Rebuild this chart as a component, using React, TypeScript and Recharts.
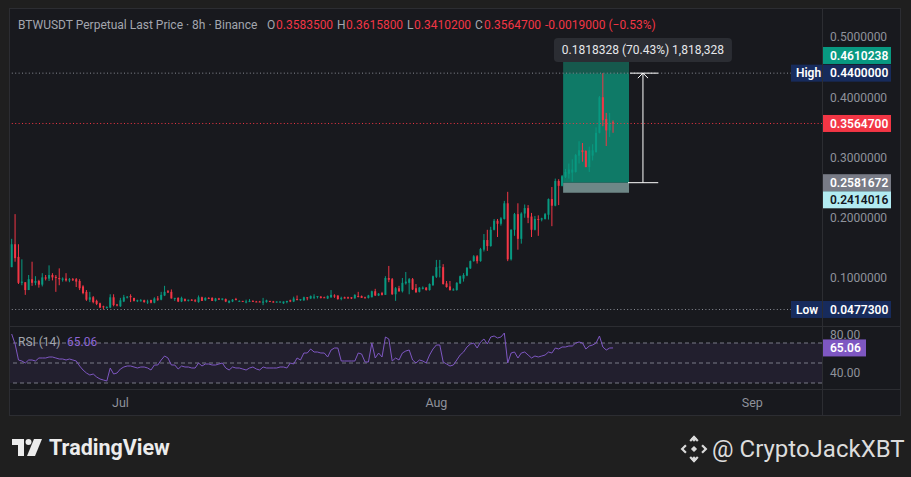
import React from 'react';
import {
    ComposedChart,
    LineChart,
    Line,
    Bar,
    XAxis,
    YAxis,
    ReferenceLine,
    ReferenceArea
} from 'recharts';

// 8h candles from 20 Jun to 18 Aug: [open, high, low, close]
const candles: number[][] = [
    [0.118, 0.165, 0.118, 0.156], [0.156, 0.206, 0.127, 0.133], [0.135, 0.156, 0.090, 0.092], [0.092, 0.131, 0.088, 0.094],
    [0.093, 0.093, 0.072, 0.080], [0.080, 0.105, 0.080, 0.098], [0.098, 0.127, 0.087, 0.092], [0.092, 0.103, 0.088, 0.095],
    [0.095, 0.097, 0.084, 0.089], [0.089, 0.108, 0.086, 0.101], [0.101, 0.105, 0.096, 0.099], [0.099, 0.121, 0.095, 0.105],
    [0.105, 0.108, 0.096, 0.101], [0.102, 0.105, 0.077, 0.100], [0.100, 0.116, 0.088, 0.098], [0.097, 0.101, 0.094, 0.099],
    [0.099, 0.108, 0.094, 0.096], [0.096, 0.100, 0.093, 0.098], [0.098, 0.100, 0.095, 0.097], [0.098, 0.100, 0.085, 0.094],
    [0.095, 0.098, 0.080, 0.083], [0.086, 0.088, 0.073, 0.075], [0.077, 0.080, 0.062, 0.064], [0.064, 0.077, 0.060, 0.068],
    [0.068, 0.070, 0.058, 0.060], [0.062, 0.064, 0.055, 0.057], [0.058, 0.059, 0.050, 0.051], [0.053, 0.054, 0.0477, 0.052],
    [0.051, 0.053, 0.049, 0.052], [0.051, 0.073, 0.050, 0.068], [0.068, 0.073, 0.053, 0.055], [0.056, 0.057, 0.053, 0.055],
    [0.053, 0.067, 0.052, 0.063], [0.061, 0.072, 0.060, 0.068], [0.068, 0.070, 0.066, 0.069], [0.070, 0.073, 0.060, 0.068],
    [0.067, 0.067, 0.061, 0.062], [0.062, 0.064, 0.060, 0.063], [0.063, 0.065, 0.061, 0.063], [0.063, 0.064, 0.059, 0.060],
    [0.060, 0.064, 0.057, 0.061], [0.0635, 0.064, 0.058, 0.059], [0.059, 0.068, 0.058, 0.066], [0.066, 0.070, 0.062, 0.064],
    [0.064, 0.077, 0.063, 0.072], [0.071, 0.087, 0.070, 0.077], [0.078, 0.080, 0.075, 0.076], [0.077, 0.081, 0.066, 0.066],
    [0.066, 0.067, 0.062, 0.067], [0.067, 0.068, 0.060, 0.061], [0.061, 0.069, 0.060, 0.067], [0.065, 0.066, 0.061, 0.062],
    [0.062, 0.064, 0.061, 0.064], [0.064, 0.065, 0.062, 0.063], [0.063, 0.065, 0.060, 0.062], [0.060, 0.071, 0.059, 0.068],
    [0.068, 0.069, 0.062, 0.062], [0.063, 0.068, 0.062, 0.067], [0.067, 0.068, 0.065, 0.066], [0.067, 0.068, 0.062, 0.062],
    [0.062, 0.067, 0.061, 0.066], [0.066, 0.067, 0.064, 0.064], [0.064, 0.066, 0.063, 0.066], [0.065, 0.066, 0.060, 0.061],
    [0.059, 0.063, 0.058, 0.062], [0.061, 0.065, 0.060, 0.064], [0.065, 0.067, 0.063, 0.064], [0.062, 0.063, 0.061, 0.062],
    [0.062, 0.062, 0.061, 0.061], [0.060, 0.064, 0.058, 0.061], [0.061, 0.065, 0.060, 0.062], [0.062, 0.063, 0.061, 0.061],
    [0.061, 0.062, 0.060, 0.060], [0.061, 0.062, 0.060, 0.060], [0.059, 0.067, 0.055, 0.061], [0.060, 0.064, 0.059, 0.063],
    [0.062, 0.062, 0.060, 0.061], [0.061, 0.062, 0.059, 0.060], [0.060, 0.061, 0.059, 0.061], [0.060, 0.061, 0.059, 0.061],
    [0.058, 0.061, 0.057, 0.061], [0.060, 0.062, 0.058, 0.062], [0.063, 0.064, 0.060, 0.061], [0.061, 0.069, 0.060, 0.066],
    [0.065, 0.071, 0.063, 0.064], [0.063, 0.065, 0.062, 0.065], [0.063, 0.069, 0.062, 0.068], [0.068, 0.068, 0.063, 0.067],
    [0.066, 0.071, 0.065, 0.070], [0.069, 0.073, 0.065, 0.069], [0.069, 0.070, 0.066, 0.070], [0.069, 0.070, 0.066, 0.067],
    [0.068, 0.069, 0.067, 0.067], [0.066, 0.071, 0.065, 0.070], [0.068, 0.080, 0.067, 0.072], [0.071, 0.073, 0.067, 0.070],
    [0.071, 0.071, 0.064, 0.065], [0.066, 0.069, 0.063, 0.067], [0.068, 0.069, 0.066, 0.066], [0.068, 0.069, 0.066, 0.066],
    [0.068, 0.068, 0.065, 0.066], [0.066, 0.073, 0.066, 0.072], [0.070, 0.077, 0.068, 0.069], [0.070, 0.071, 0.067, 0.067],
    [0.068, 0.069, 0.066, 0.067], [0.067, 0.072, 0.066, 0.071], [0.068, 0.079, 0.068, 0.078], [0.078, 0.082, 0.070, 0.071],
    [0.071, 0.075, 0.070, 0.074], [0.075, 0.077, 0.071, 0.072], [0.072, 0.103, 0.072, 0.100], [0.100, 0.120, 0.093, 0.097],
    [0.098, 0.100, 0.072, 0.073], [0.073, 0.085, 0.062, 0.083], [0.083, 0.087, 0.077, 0.078], [0.078, 0.100, 0.076, 0.092],
    [0.091, 0.110, 0.089, 0.094], [0.092, 0.100, 0.073, 0.098], [0.098, 0.100, 0.080, 0.081], [0.083, 0.090, 0.076, 0.076],
    [0.077, 0.085, 0.076, 0.084], [0.082, 0.086, 0.081, 0.084], [0.084, 0.085, 0.079, 0.080], [0.080, 0.091, 0.079, 0.090],
    [0.088, 0.104, 0.087, 0.103], [0.102, 0.130, 0.100, 0.118], [0.118, 0.130, 0.101, 0.119], [0.118, 0.123, 0.089, 0.090],
    [0.091, 0.095, 0.084, 0.085], [0.086, 0.095, 0.079, 0.080], [0.080, 0.083, 0.079, 0.081], [0.080, 0.093, 0.079, 0.092],
    [0.091, 0.104, 0.090, 0.103], [0.099, 0.108, 0.094, 0.105], [0.104, 0.118, 0.103, 0.117], [0.116, 0.129, 0.115, 0.128],
    [0.128, 0.138, 0.127, 0.136], [0.136, 0.138, 0.124, 0.128], [0.128, 0.150, 0.127, 0.148], [0.147, 0.173, 0.144, 0.163],
    [0.163, 0.180, 0.145, 0.153], [0.153, 0.185, 0.152, 0.180], [0.180, 0.198, 0.179, 0.195], [0.195, 0.198, 0.168, 0.190],
    [0.190, 0.201, 0.187, 0.199], [0.198, 0.228, 0.197, 0.224], [0.224, 0.243, 0.128, 0.131], [0.131, 0.181, 0.129, 0.180],
    [0.180, 0.208, 0.170, 0.206], [0.206, 0.224, 0.147, 0.165], [0.165, 0.209, 0.157, 0.207], [0.207, 0.222, 0.200, 0.216],
    [0.216, 0.221, 0.191, 0.200], [0.202, 0.208, 0.168, 0.180], [0.180, 0.203, 0.179, 0.198], [0.198, 0.204, 0.170, 0.197],
    [0.197, 0.200, 0.194, 0.199], [0.198, 0.208, 0.197, 0.206], [0.205, 0.232, 0.197, 0.231], [0.231, 0.251, 0.186, 0.220],
    [0.220, 0.265, 0.219, 0.261], [0.261, 0.264, 0.221, 0.253], [0.253, 0.271, 0.252, 0.269], [0.268, 0.281, 0.266, 0.276],
    [0.273, 0.290, 0.265, 0.280], [0.275, 0.297, 0.260, 0.280], [0.276, 0.306, 0.275, 0.304], [0.303, 0.327, 0.290, 0.312],
    [0.312, 0.324, 0.293, 0.309], [0.311, 0.312, 0.284, 0.284], [0.284, 0.318, 0.276, 0.312], [0.303, 0.322, 0.295, 0.312],
    [0.309, 0.350, 0.308, 0.341], [0.341, 0.402, 0.340, 0.400], [0.400, 0.440, 0.352, 0.362], [0.364, 0.374, 0.319, 0.345],
    [0.345, 0.374, 0.334, 0.358], [0.35835, 0.36158, 0.34102, 0.35647]
];

// RSI (14) per candle
const rsiValues: number[] = [
    79, 69, 53, 52, 50, 53, 53, 52, 55, 55,
    55, 56, 56, 55, 54, 54, 53, 54, 53, 52,
    47, 43, 40, 38, 39, 36, 34, 33, 32, 45,
    39, 40, 44, 46, 47, 47, 46, 45, 46, 46,
    45, 43, 48, 48, 53, 57, 55, 48, 48, 44,
    47, 46, 46, 45, 45, 50, 47, 49, 49, 48,
    48, 49, 50, 45, 43, 46, 45, 45, 44, 43,
    45, 46, 44, 43, 46, 45, 45, 45, 45, 46,
    46, 45, 50, 49, 55, 53, 60, 60, 64, 61,
    61, 60, 60, 56, 63, 65, 65, 52, 52, 52,
    52, 52, 60, 59, 51, 51, 70, 55, 60, 56,
    76, 74, 52, 55, 53, 60, 62, 63, 53, 50,
    53, 52, 50, 58, 64, 68, 68, 51, 49, 47,
    48, 53, 58, 61, 66, 69, 70, 65, 71, 74,
    69, 76, 77, 75, 76, 80, 50, 60, 61, 55,
    60, 61, 58, 55, 57, 56, 57, 58, 61, 60,
    65, 64, 66, 66, 67, 67, 70, 71, 70, 64,
    67, 68, 70, 77, 66, 63, 65, 65.06
];

const monthTicks = [32, 125, 218];
const monthNames = ['Jul', 'Aug', 'Sep'];
const priceTicks = [0.1, 0.2, 0.3, 0.4, 0.5];
const rsiTicks = [40, 80];
const rsiLevels = [70, 50, 30];

const lastOHLC = [0.35835, 0.36158, 0.34102, 0.35647];
const changeAbs = -0.0019;
const changePct = -0.53;
const rangeHigh = 0.44;
const rangeLow = 0.04773;
// long position tool: target / entry / stop, drawn over candle slots
const positionLevels = [0.4610238, 0.2581672, 0.2414016];
const positionSlots = [162.3, 181.7];
const measureVolume = 1818328;

const UP = '#089981';
const DOWN = '#f23645';
const AXIS_TEXT = '#8f929b';
const FONT = 'Roboto, "Noto Sans", sans-serif';
const X_DOMAIN: [number, number] = [-0.5, 238.5];
const Y_DOMAIN: [number, number] = [0.02033, 0.54481];

const rows = candles.map((c, i) => ({ i, o: c[0], h: c[1], l: c[2], c: c[3], range: [c[2], c[1]] }));
const rsiRows = rsiValues.map((v, i) => ({ i, rsi: v }));

const Candle = (props: any) => {
    const { x, y, width, height, payload } = props;
    if (!payload || payload.o == null || !isFinite(y)) return <g />;
    const { o, h, l, c } = payload;
    const span = h - l;
    const toY = (v: number) => (span > 0 ? y + ((h - v) / span) * height : y);
    const color = c >= o ? UP : DOWN;
    const w = width > 0 ? width : 2.6;
    const cx = x + (width > 0 ? width / 2 : 0);
    const top = toY(Math.max(o, c));
    const bot = toY(Math.min(o, c));
    return (
        <g>
            <line x1={cx} x2={cx} y1={y} y2={y + height} stroke={color} strokeWidth={1} />
            <rect x={cx - w / 2} y={top} width={w} height={Math.max(bot - top, 1)} fill={color} />
        </g>
    );
};

// price tag on the right axis, attached to a horizontal reference line
const axisTag = (text: string, bg: string, fg: string, shift = 0, name?: string, w = 68) => (props: any) => {
    const vb = props.viewBox;
    if (!vb) return null;
    const x0 = vb.x + vb.width;
    const y = vb.y + shift;
    return (
        <g>
            {name && <rect x={x0 - 31} y={y - 8.5} width={32} height={17} fill={bg} />}
            {name && (
                <text x={x0 - 26} y={y} dy="0.35em" fill={fg} fontSize={12} fontFamily={FONT} fontWeight={600}>
                    {name}
                </text>
            )}
            <rect x={x0 + 1} y={y - 8.5} width={w} height={17} fill={bg} />
            <text x={x0 + 8} y={y} dy="0.35em" fill={fg} fontSize={12} fontFamily={FONT} fontWeight={600}>
                {text}
            </text>
        </g>
    );
};

const [target, entry, stop] = positionLevels;
const measureDiff = rangeHigh - entry;
const measureText = `${measureDiff.toFixed(7)} (${((measureDiff / entry) * 100).toFixed(2)}%) ${measureVolume.toLocaleString('en-US')}`;

const MeasureLabel = (props: any) => {
    const vb = props.viewBox;
    if (!vb) return null;
    return (
        <text x={vb.x + vb.width / 2} y={vb.y + vb.height / 2} dy="0.35em" textAnchor="middle" fill="#e6e7ea" fontSize={12} fontFamily={FONT}>
            {measureText}
        </text>
    );
};

const fmt = (v: number) => v.toFixed(7);

const App: React.FC = () => {
    return (
        <div style={{ position: 'absolute', left: 0, top: 0, width: 911, height: 477, background: '#1f1f1f', overflow: 'hidden', fontFamily: FONT }}>
            <div style={{ position: 'absolute', left: 9, top: 8, width: 892, height: 408, background: '#18191e', border: '1px solid #2c2d32', boxSizing: 'border-box' }} />

            {/* position tool zones, kept underneath the candles */}
            <div style={{ position: 'absolute', left: 10, top: 10 }}>
                <ComposedChart width={891} height={316} data={rows} margin={{ top: 0, right: 0, bottom: 0, left: 0 }}>
                    <XAxis type="number" dataKey="i" domain={X_DOMAIN} allowDataOverflow hide />
                    <YAxis orientation="right" width={79} domain={Y_DOMAIN} allowDataOverflow tick={false} axisLine={false} tickLine={false} />
                    <ReferenceArea x1={positionSlots[0]} x2={positionSlots[1]} y1={rangeHigh} y2={target} fill="#16594d" fillOpacity={1} stroke="none" />
                    <ReferenceArea x1={positionSlots[0]} x2={positionSlots[1]} y1={entry} y2={rangeHigh} fill="#0f7a67" fillOpacity={1} stroke="none" />
                    <ReferenceArea x1={positionSlots[0]} x2={positionSlots[1]} y1={stop} y2={entry} fill="#6e8787" fillOpacity={1} stroke="none" />
                </ComposedChart>
            </div>

            <div style={{ position: 'absolute', left: 10, top: 10 }}>
                <ComposedChart width={891} height={316} data={rows} margin={{ top: 0, right: 0, bottom: 0, left: 0 }} barCategoryGap="20%">
                    <XAxis type="number" dataKey="i" domain={X_DOMAIN} allowDataOverflow hide />
                    <YAxis
                        orientation="right"
                        width={79}
                        domain={Y_DOMAIN}
                        allowDataOverflow
                        ticks={priceTicks}
                        tickFormatter={fmt}
                        axisLine={false}
                        tickLine={false}
                        tickSize={0}
                        tickMargin={8}
                        tick={{ fill: AXIS_TEXT, fontSize: 12, fontFamily: FONT }}
                    />
                    <ReferenceLine y={rangeHigh} stroke="#8a8d96" strokeDasharray="1 2.4" label={axisTag(fmt(rangeHigh), '#172b5c', '#ffffff', 0, 'High')} />
                    <ReferenceLine y={lastOHLC[3]} stroke={DOWN} strokeDasharray="1 2.4" label={axisTag(fmt(lastOHLC[3]), DOWN, '#ffffff')} />
                    <ReferenceLine y={rangeLow} stroke="#8a8d96" strokeDasharray="1 2.4" label={axisTag(fmt(rangeLow), '#172b5c', '#ffffff', 0, 'Low')} />
                    <ReferenceLine y={target} stroke="none" label={axisTag(fmt(target), UP, '#ffffff', -5)} />
                    <ReferenceLine y={entry} stroke="none" label={axisTag(fmt(entry), '#787b86', '#ffffff')} />
                    <ReferenceLine y={stop} stroke="none" label={axisTag(fmt(stop), '#b2ebf2', '#131722', 7)} />
                    <Bar dataKey="range" shape={<Candle />} isAnimationActive={false} />
                    <ReferenceLine segment={[{ x: 185.8, y: entry }, { x: 185.8, y: rangeHigh }]} stroke="#ffffff" strokeWidth={1} />
                    <ReferenceLine segment={[{ x: 182, y: rangeHigh }, { x: 190.3, y: rangeHigh }]} stroke="#ffffff" strokeWidth={1} />
                    <ReferenceLine segment={[{ x: 181.4, y: entry }, { x: 190.3, y: entry }]} stroke="#ffffff" strokeWidth={1} />
                    <ReferenceLine segment={[{ x: 184.3, y: 0.4317 }, { x: 185.8, y: rangeHigh }]} stroke="#ffffff" strokeWidth={1} />
                    <ReferenceLine segment={[{ x: 187.3, y: 0.4317 }, { x: 185.8, y: rangeHigh }]} stroke="#ffffff" strokeWidth={1} />
                    <ReferenceArea x1={159.6} x2={212} y1={0.4585} y2={0.4983} fill="#2b2d33" fillOpacity={1} stroke="none" radius={4} label={<MeasureLabel />} />
                </ComposedChart>
            </div>

            <div style={{ position: 'absolute', left: 10, top: 327 }}>
                <LineChart width={891} height={89} data={rsiRows} margin={{ top: 0, right: 0, bottom: 0, left: 0 }}>
                    <XAxis
                        type="number"
                        dataKey="i"
                        domain={X_DOMAIN}
                        allowDataOverflow
                        ticks={monthTicks}
                        tickFormatter={(v: number) => monthNames[monthTicks.indexOf(v)] ?? ''}
                        height={27}
                        axisLine={false}
                        tickLine={false}
                        tickSize={0}
                        tickMargin={9}
                        tick={{ fill: AXIS_TEXT, fontSize: 12.5, fontFamily: FONT }}
                    />
                    <YAxis
                        orientation="right"
                        width={79}
                        domain={[24, 86]}
                        allowDataOverflow
                        ticks={rsiTicks}
                        tickFormatter={(v: number) => v.toFixed(2)}
                        axisLine={false}
                        tickLine={false}
                        tickSize={0}
                        tickMargin={8}
                        tick={{ fill: AXIS_TEXT, fontSize: 12, fontFamily: FONT }}
                    />
                    <ReferenceArea y1={rsiLevels[2]} y2={rsiLevels[0]} fill="#7e57c2" fillOpacity={0.1} stroke="none" />
                    {rsiLevels.map((lv) => (
                        <ReferenceLine key={lv} y={lv} stroke="#787b86" strokeDasharray="4 3" />
                    ))}
                    <Line type="linear" dataKey="rsi" stroke="#7e57c2" strokeWidth={1} dot={false} isAnimationActive={false} />
                    <ReferenceLine
                        y={rsiValues[rsiValues.length - 1]}
                        stroke="none"
                        label={axisTag(rsiValues[rsiValues.length - 1].toFixed(2), '#7e57c2', '#ffffff', 0, undefined, 43)}
                    />
                </LineChart>
            </div>

            <svg width={911} height={477} style={{ position: 'absolute', left: 0, top: 0, pointerEvents: 'none' }}>
                <line x1={822.5} x2={822.5} y1={9} y2={416} stroke="#2c2d32" />
                <line x1={10} x2={901} y1={326.5} y2={326.5} stroke="#2c2d32" />
                <line x1={10} x2={901} y1={389.5} y2={389.5} stroke="#2c2d32" />

                <g fontFamily={FONT} fontSize={12}>
                    <text x={18} y={25} dy="0.35em" fill="#a3a6ae">BTWUSDT Perpetual Last Price · 8h · Binance</text>
                    <text x={267} y={25} dy="0.35em" fill="#a3a6ae">O</text>
                    <text x={276} y={25} dy="0.35em" fill={DOWN}>{fmt(lastOHLC[0])}</text>
                    <text x={337} y={25} dy="0.35em" fill="#a3a6ae">H</text>
                    <text x={346} y={25} dy="0.35em" fill={DOWN}>{fmt(lastOHLC[1])}</text>
                    <text x={407} y={25} dy="0.35em" fill="#a3a6ae">L</text>
                    <text x={414} y={25} dy="0.35em" fill={DOWN}>{fmt(lastOHLC[2])}</text>
                    <text x={475} y={25} dy="0.35em" fill="#a3a6ae">C</text>
                    <text x={484} y={25} dy="0.35em" fill={DOWN}>{fmt(lastOHLC[3])}</text>
                    <text x={545} y={25} dy="0.35em" fill={DOWN}>{`${changeAbs.toFixed(7)} (\u2212${Math.abs(changePct).toFixed(2)}%)`}</text>

                    <text x={18} y={342} dy="0.35em" fill="#a3a6ae">RSI (14)</text>
                    <text x={67} y={342} dy="0.35em" fill="#8d66d6">{rsiValues[rsiValues.length - 1].toFixed(2)}</text>
                </g>

                {/* TradingView mark */}
                <g fill="#ececec">
                    <path d="M12 439 H24 V456 H18 V445 H12 Z" />
                    <circle cx={28.5} cy={442} r={3} />
                    <path d="M34 439 H42 L35 456 H27 Z" />
                </g>
                <text x={49} y={447} dy="0.35em" fill="#ececec" fontSize={21.5} fontWeight={700} fontFamily={FONT}>TradingView</text>

                {/* Binance-style mark and handle */}
                <g fill="#d9d9d9" transform="translate(694 449) rotate(45)">
                    <rect x={-2.2} y={-2.2} width={4.4} height={4.4} />
                    <rect x={-9.5} y={-9.5} width={4.4} height={4.4} />
                    <rect x={5.1} y={5.1} width={4.4} height={4.4} />
                    <path d="M-9.5 -3 V-9.5 H-3 V-7.3 H-7.3 V-3 Z M9.5 3 V9.5 H3 V7.3 H7.3 V3 Z" />
                    <path d="M3 -9.5 H9.5 V-3 H7.3 V-7.3 H3 Z M-3 9.5 H-9.5 V3 H-7.3 V7.3 H-3 Z" />
                </g>
                <text x={712} y={449} dy="0.35em" fill="#dcdcdc" fontSize={24} fontFamily={FONT}>@ CryptoJackXBT</text>
            </svg>
        </div>
    );
};

export default App;
